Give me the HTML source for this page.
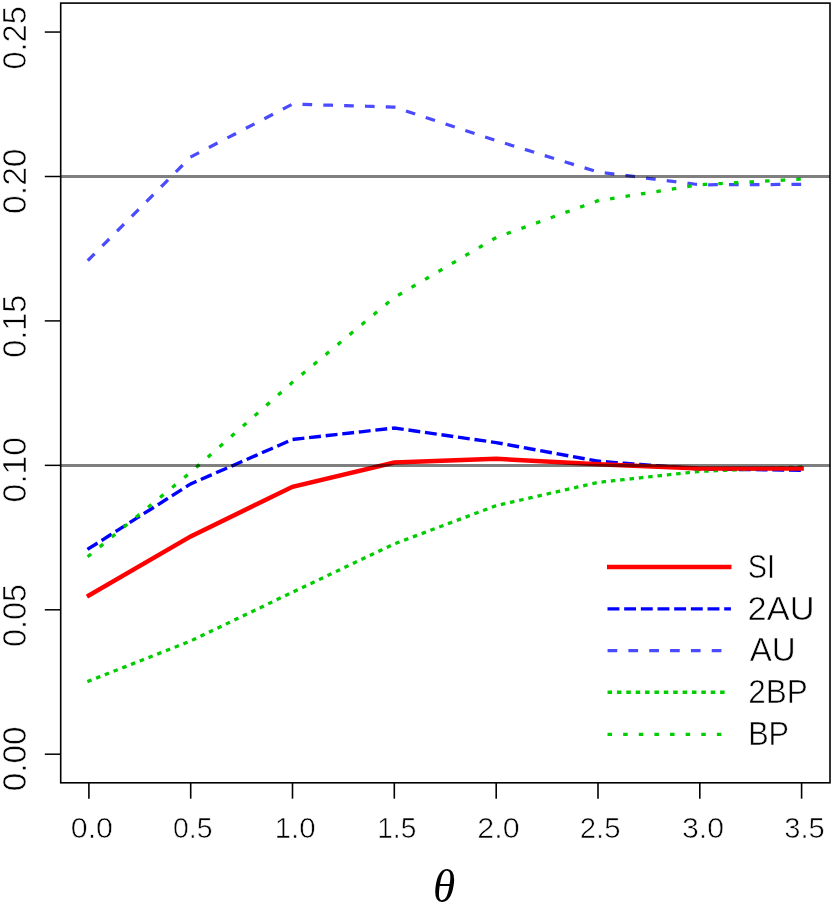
<!DOCTYPE html>
<html><head><meta charset="utf-8"><title>chart</title>
<style>html,body{margin:0;padding:0;background:#fff;}svg{display:block;font-family:"Liberation Sans",sans-serif;}</style></head>
<body>
<svg width="831" height="905" viewBox="0 0 831 905">
<rect x="0" y="0" width="831" height="905" fill="#ffffff"/>
<polyline points="88.9,548.5 190.7,483.9 292.5,439.5 394.3,428.0 496.2,442.6 598.0,461.2 699.8,469.0 801.6,470.2" fill="none" stroke="#0000ff" stroke-width="3.4" stroke-linejoin="miter" stroke-linecap="square" stroke-dasharray="8.50 8.17"/>
<polyline points="88.9,259.5 190.7,157.0 292.5,104.1 394.3,107.1 496.2,140.6 598.0,172.0 699.8,184.8 801.6,184.4" fill="none" stroke="#4a4aff" stroke-width="3.25" stroke-linejoin="miter" stroke-linecap="square" stroke-dasharray="6.45 14.38"/>
<polyline points="88.9,681.0 190.7,641.0 292.5,592.2 394.3,543.9 496.2,505.6 598.0,482.4 699.8,471.4 801.6,467.0" fill="none" stroke="#00cd00" stroke-width="3.3" stroke-linejoin="miter" stroke-linecap="square" stroke-dasharray="1.20 8.18"/>
<polyline points="88.9,555.8 190.7,472.3 292.5,382.3 394.3,297.5 496.2,237.5 598.0,200.7 699.8,184.7 801.6,179.1" fill="none" stroke="#00cd00" stroke-width="3.3" stroke-linejoin="miter" stroke-linecap="square" stroke-dasharray="1.20 14.42"/>
<polyline points="88.9,595.5 190.7,536.4 292.5,486.8 394.3,462.6 496.2,458.8 598.0,464.3 699.8,468.4 801.6,468.6" fill="none" stroke="#ff0000" stroke-width="4.5" stroke-linejoin="miter" stroke-linecap="square"/>
<line x1="60.7" y1="176.5" x2="830.0" y2="176.5" stroke="#000" stroke-opacity="0.5" stroke-width="3"/>
<line x1="60.7" y1="465.4" x2="830.0" y2="465.4" stroke="#000" stroke-opacity="0.5" stroke-width="3"/>
<rect x="60.7" y="3.1" width="769.3" height="779.7" fill="none" stroke="#000" stroke-width="1.6"/>
<line x1="44.8" y1="32.05" x2="60.7" y2="32.05" stroke="#000" stroke-width="1.5"/>
<line x1="44.8" y1="176.5" x2="60.7" y2="176.5" stroke="#000" stroke-width="1.5"/>
<line x1="44.8" y1="320.9" x2="60.7" y2="320.9" stroke="#000" stroke-width="1.5"/>
<line x1="44.8" y1="465.35" x2="60.7" y2="465.35" stroke="#000" stroke-width="1.5"/>
<line x1="44.8" y1="609.8" x2="60.7" y2="609.8" stroke="#000" stroke-width="1.5"/>
<line x1="44.8" y1="754.2" x2="60.7" y2="754.2" stroke="#000" stroke-width="1.5"/>
<line x1="88.9" y1="782.8" x2="88.9" y2="798.7" stroke="#000" stroke-width="1.6"/>
<line x1="190.7" y1="782.8" x2="190.7" y2="798.7" stroke="#000" stroke-width="1.6"/>
<line x1="292.5" y1="782.8" x2="292.5" y2="798.7" stroke="#000" stroke-width="1.6"/>
<line x1="394.3" y1="782.8" x2="394.3" y2="798.7" stroke="#000" stroke-width="1.6"/>
<line x1="496.2" y1="782.8" x2="496.2" y2="798.7" stroke="#000" stroke-width="1.6"/>
<line x1="598.0" y1="782.8" x2="598.0" y2="798.7" stroke="#000" stroke-width="1.6"/>
<line x1="699.8" y1="782.8" x2="699.8" y2="798.7" stroke="#000" stroke-width="1.6"/>
<line x1="801.6" y1="782.8" x2="801.6" y2="798.7" stroke="#000" stroke-width="1.6"/>
<g style="will-change:opacity;opacity:0.999">
<text transform="translate(70.78,837.60) scale(0.3038,0.2914)" font-size="100" fill="#000" stroke="#fff" stroke-width="2.06">0.0</text>
<text transform="translate(172.96,837.60) scale(0.2840,0.2914)" font-size="100" fill="#000" stroke="#fff" stroke-width="2.06">0.5</text>
<text transform="translate(274.64,837.60) scale(0.2945,0.2914)" font-size="100" fill="#000" stroke="#fff" stroke-width="2.06">1.0</text>
<text transform="translate(377.25,837.60) scale(0.2811,0.2914)" font-size="100" fill="#000" stroke="#fff" stroke-width="2.06">1.5</text>
<text transform="translate(477.28,837.60) scale(0.3046,0.2914)" font-size="100" fill="#000" stroke="#fff" stroke-width="2.06">2.0</text>
<text transform="translate(579.73,837.60) scale(0.2931,0.2914)" font-size="100" fill="#000" stroke="#fff" stroke-width="2.06">2.5</text>
<text transform="translate(681.99,837.60) scale(0.3023,0.2914)" font-size="100" fill="#000" stroke="#fff" stroke-width="2.06">3.0</text>
<text transform="translate(784.24,837.60) scale(0.2908,0.2914)" font-size="100" fill="#000" stroke="#fff" stroke-width="2.06">3.5</text>
<text transform="translate(25.60,69.50) rotate(-90) scale(0.3253,0.3400)" font-size="100" fill="#000" stroke="#fff" stroke-width="1.76">0.25</text>
<text transform="translate(25.60,213.95) rotate(-90) scale(0.3369,0.3400)" font-size="100" fill="#000" stroke="#fff" stroke-width="1.76">0.20</text>
<text transform="translate(25.60,357.69) rotate(-90) scale(0.3237,0.3400)" font-size="100" fill="#000" stroke="#fff" stroke-width="1.76">0.15</text>
<text transform="translate(25.60,502.55) rotate(-90) scale(0.3364,0.3400)" font-size="100" fill="#000" stroke="#fff" stroke-width="1.76">0.10</text>
<text transform="translate(25.60,647.00) rotate(-90) scale(0.3242,0.3400)" font-size="100" fill="#000" stroke="#fff" stroke-width="1.76">0.05</text>
<text transform="translate(25.60,791.13) rotate(-90) scale(0.3321,0.3400)" font-size="100" fill="#000" stroke="#fff" stroke-width="1.76">0.00</text>
<line x1="609.2" y1="567.0" x2="729.2" y2="567.0" stroke="#ff0000" stroke-width="4.5" stroke-linecap="square"/>
<line x1="609.2" y1="608.9" x2="729.2" y2="608.9" stroke="#0000ff" stroke-width="3.4" stroke-linecap="square" stroke-dasharray="8.50 8.17"/>
<line x1="609.2" y1="650.55" x2="729.2" y2="650.55" stroke="#4a4aff" stroke-width="3.25" stroke-linecap="square" stroke-dasharray="6.45 14.38"/>
<line x1="609.2" y1="692.25" x2="729.2" y2="692.25" stroke="#00cd00" stroke-width="3.3" stroke-linecap="square" stroke-dasharray="1.20 8.18"/>
<line x1="609.2" y1="734.3" x2="729.2" y2="734.3" stroke="#00cd00" stroke-width="3.3" stroke-linecap="square" stroke-dasharray="1.20 14.42"/>
<text transform="translate(747.86,577.50) scale(0.2887,0.3400)" font-size="100" fill="#000" stroke="#fff" stroke-width="1.76">SI</text>
<text transform="translate(747.58,619.50) scale(0.3440,0.3400)" font-size="100" fill="#000" stroke="#fff" stroke-width="1.76">2AU</text>
<text transform="translate(749.70,661.30) scale(0.3313,0.3400)" font-size="100" fill="#000" stroke="#fff" stroke-width="1.76">AU</text>
<text transform="translate(748.22,703.20) scale(0.3151,0.3400)" font-size="100" fill="#000" stroke="#fff" stroke-width="1.76">2BP</text>
<text transform="translate(748.15,745.00) scale(0.3067,0.3400)" font-size="100" fill="#000" stroke="#fff" stroke-width="1.76">BP</text>
<text transform="translate(432.94,901.95) scale(0.4524,0.4549)" font-size="100" font-family="Liberation Serif, serif" font-style="italic" fill="#000">θ</text>
</g>
</svg>
</body></html>
